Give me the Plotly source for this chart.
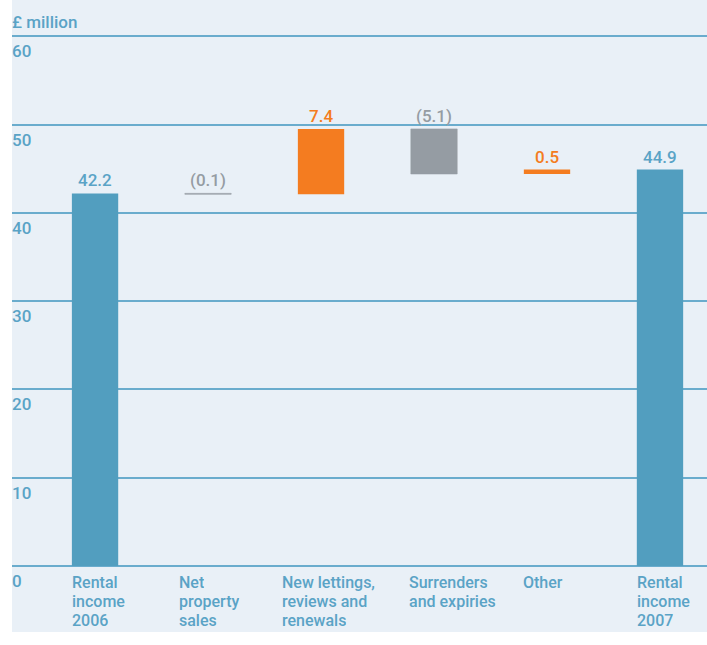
import plotly.graph_objects as go

# Rental income bridge, 2006 -> 2007 (£ million)
categories = ["Rental income 2006", "Net property sales", "New lettings, reviews and renewals",
              "Surrenders and expiries", "Other", "Rental income 2007"]
axis_labels = [["Rental", "income", "2006"], ["Net", "property", "sales"],
               ["New lettings,", "reviews and", "renewals"], ["Surrenders", "and expiries"],
               ["Other"], ["Rental", "income", "2007"]]
measures = ["absolute", "relative", "relative", "relative", "relative", "total"]
values = [42.2, -0.1, 7.4, -5.1, 0.5, 44.9]
y_ticks = [0, 10, 20, 30, 40, 50, 60]

BLUE = "#529ebf"
ORANGE = "#f47c20"
GREY = "#959ca3"
TEXT_BLUE = "#5aa3c6"
GRID = "#6aaccd"
BG = "#e9f0f7"
FONT = "Roboto"
SIZE = 17
CAT_SIZE = 16
LINE_H = 19

label_offsets = [0, -6, -16, -2, -1, 0]

fig = go.Figure()
fig.add_trace(go.Waterfall(
    x=categories,
    measure=measures,
    y=values,
    width=0.41,
    connector=dict(visible=False),
    increasing=dict(marker=dict(color=ORANGE)),
    decreasing=dict(marker=dict(color=GREY, line=dict(color=GREY, width=0.6))),
    totals=dict(marker=dict(color=BLUE)),
    hoverinfo="x+y",
))

# value labels sit above the top edge of each step
annotations = []
running = 0.0
for cat, m, v in zip(categories, measures, values):
    if m == "absolute":
        hi = v
        running = v
        color, txt = TEXT_BLUE, f"{v:.1f}"
    elif m == "total":
        hi = running
        color, txt = TEXT_BLUE, f"{running:.1f}"
    else:
        hi = max(running, running + v)
        running += v
        if v < 0:
            color, txt = GREY, f"({abs(v):.1f})"
        else:
            color, txt = ORANGE, f"{v:.1f}"
    annotations.append(dict(x=cat, y=hi, xref="x", yref="y", text=txt, showarrow=False,
                            yanchor="bottom", yshift=1,
                            font=dict(family=FONT, size=SIZE, color=color, weight=500)))

# category labels under the baseline, left-aligned near each bar, one line at a time
for cat, lines, off in zip(categories, axis_labels, label_offsets):
    for i, line in enumerate(lines):
        annotations.append(dict(x=cat, y=0, xref="x", yref="y", text=line, showarrow=False,
                                xanchor="left", yanchor="top", align="left", valign="middle",
                                height=LINE_H, borderpad=0,
                                xshift=-24 + off, yshift=-6 - i * LINE_H,
                                font=dict(family=FONT, size=CAT_SIZE, color=TEXT_BLUE, weight=500)))

# y tick labels drawn just below each gridline
for t in y_ticks:
    annotations.append(dict(x=0, y=t, xref="paper", yref="y", text=str(t), showarrow=False,
                            xanchor="left", yanchor="top", xshift=-2, yshift=-3,
                            font=dict(family=FONT, size=SIZE, color=TEXT_BLUE, weight=500)))

annotations.append(dict(x=0, y=1, xref="paper", yref="paper", text="£ million", showarrow=False,
                        xanchor="left", yanchor="top", xshift=-2, yshift=-10,
                        font=dict(family=FONT, size=SIZE, color=TEXT_BLUE, weight=500)))

fig.update_layout(
    width=707, height=645,
    margin=dict(l=12, r=0, t=0, b=13),
    paper_bgcolor="white",
    plot_bgcolor=BG,
    showlegend=False,
    annotations=annotations,
    xaxis=dict(range=[-0.735, 5.416], showticklabels=False, showgrid=False,
               zeroline=False, showline=False, ticks=""),
    yaxis=dict(range=[-7.47, 64.1], tickvals=y_ticks, showticklabels=False,
               showgrid=True, gridcolor=GRID, gridwidth=1.5,
               zeroline=True, zerolinecolor=GRID, zerolinewidth=1.5,
               showline=False, ticks=""),
)

fig.write_html("out.html")
